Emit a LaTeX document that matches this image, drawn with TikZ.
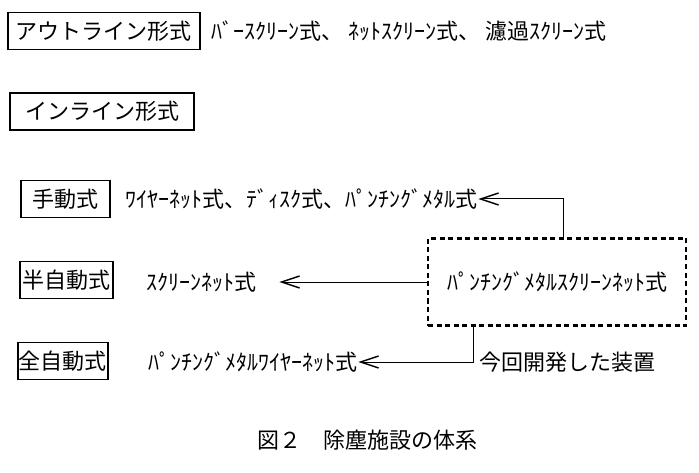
\documentclass[tikz,border=0pt]{standalone}
\usepackage{fontspec}
\setmainfont{Noto Sans CJK JP}
\usepackage{tikz}
\usetikzlibrary{positioning}
\usetikzlibrary{arrows.meta}

\tikzset{
  catbox/.style={draw, line width=1.3pt, minimum height=37pt, inner sep=0pt, font=\fontsize{22}{24}\selectfont},
  listtext/.style={anchor=west, inner sep=1pt, font=\fontsize{22}{24}\selectfont},
  newbox/.style={draw, line width=2.3pt, dash pattern=on 5pt off 3.5pt, minimum width=258pt, minimum height=87pt, font=\fontsize{22}{24}\selectfont},
  arr/.style={line width=1pt, -{Straight Barb[length=18pt,width=12pt,line width=1.4pt]}}
}

\begin{document}
\begin{tikzpicture}[x=1pt, y=-1pt]
% keep the page the same size as the figure
\useasboundingbox (0,0) rectangle (699,473);

% category boxes on the left
\node[catbox, minimum width=192pt] (outline) at (104,31) {アウトライン形式};
\node[catbox, minimum width=184pt] (inline) at (102,111.5) {インライン形式};
\node[catbox, minimum width=89pt] (manual) at (65.5,199) {手動式};
\node[catbox, minimum width=93pt] (semiauto) at (66.5,280) {半自動式};
\node[catbox, minimum width=90pt] (fullauto) at (63,361) {全自動式};

% lists of types next to each box
\node[listtext] (outlinelist) at (210,31) {ﾊﾞｰｽｸﾘｰﾝ式、 ﾈｯﾄｽｸﾘｰﾝ式、 濾過ｽｸﾘｰﾝ式};
\node[listtext] (manuallist) at (124,199) {ﾜｲﾔｰﾈｯﾄ式、ﾃﾞｨｽｸ式、ﾊﾟﾝﾁﾝｸﾞﾒﾀﾙ式};
\node[listtext] (semilist) at (145,282) {ｽｸﾘｰﾝﾈｯﾄ式};
\node[listtext] (fulllist) at (147,362) {ﾊﾟﾝﾁﾝｸﾞﾒﾀﾙﾜｲﾔｰﾈｯﾄ式};

% the new device (dashed)
\node[newbox] (punching) at (557,282) {ﾊﾟﾝﾁﾝｸﾞﾒﾀﾙｽｸﾘｰﾝﾈｯﾄ式};
\node[listtext] (devnote) at (478,362) {今回開発した装置};

% arrows from the new device
\coordinate (topturn) at (563,199);
\coordinate (botturn) at (473,362);
\draw[arr] (punching.north -| topturn) -- (topturn) -- (manuallist.east);
\draw[arr, shorten >=22pt] (punching.west) -- (semilist.east);
\draw[arr] (punching.south -| botturn) -- (botturn) -- (fulllist.east);

% caption
\node[font=\fontsize{22}{24}\selectfont] (caption) at (367,440) {図２　除塵施設の体系};

\end{tikzpicture}
\end{document}
